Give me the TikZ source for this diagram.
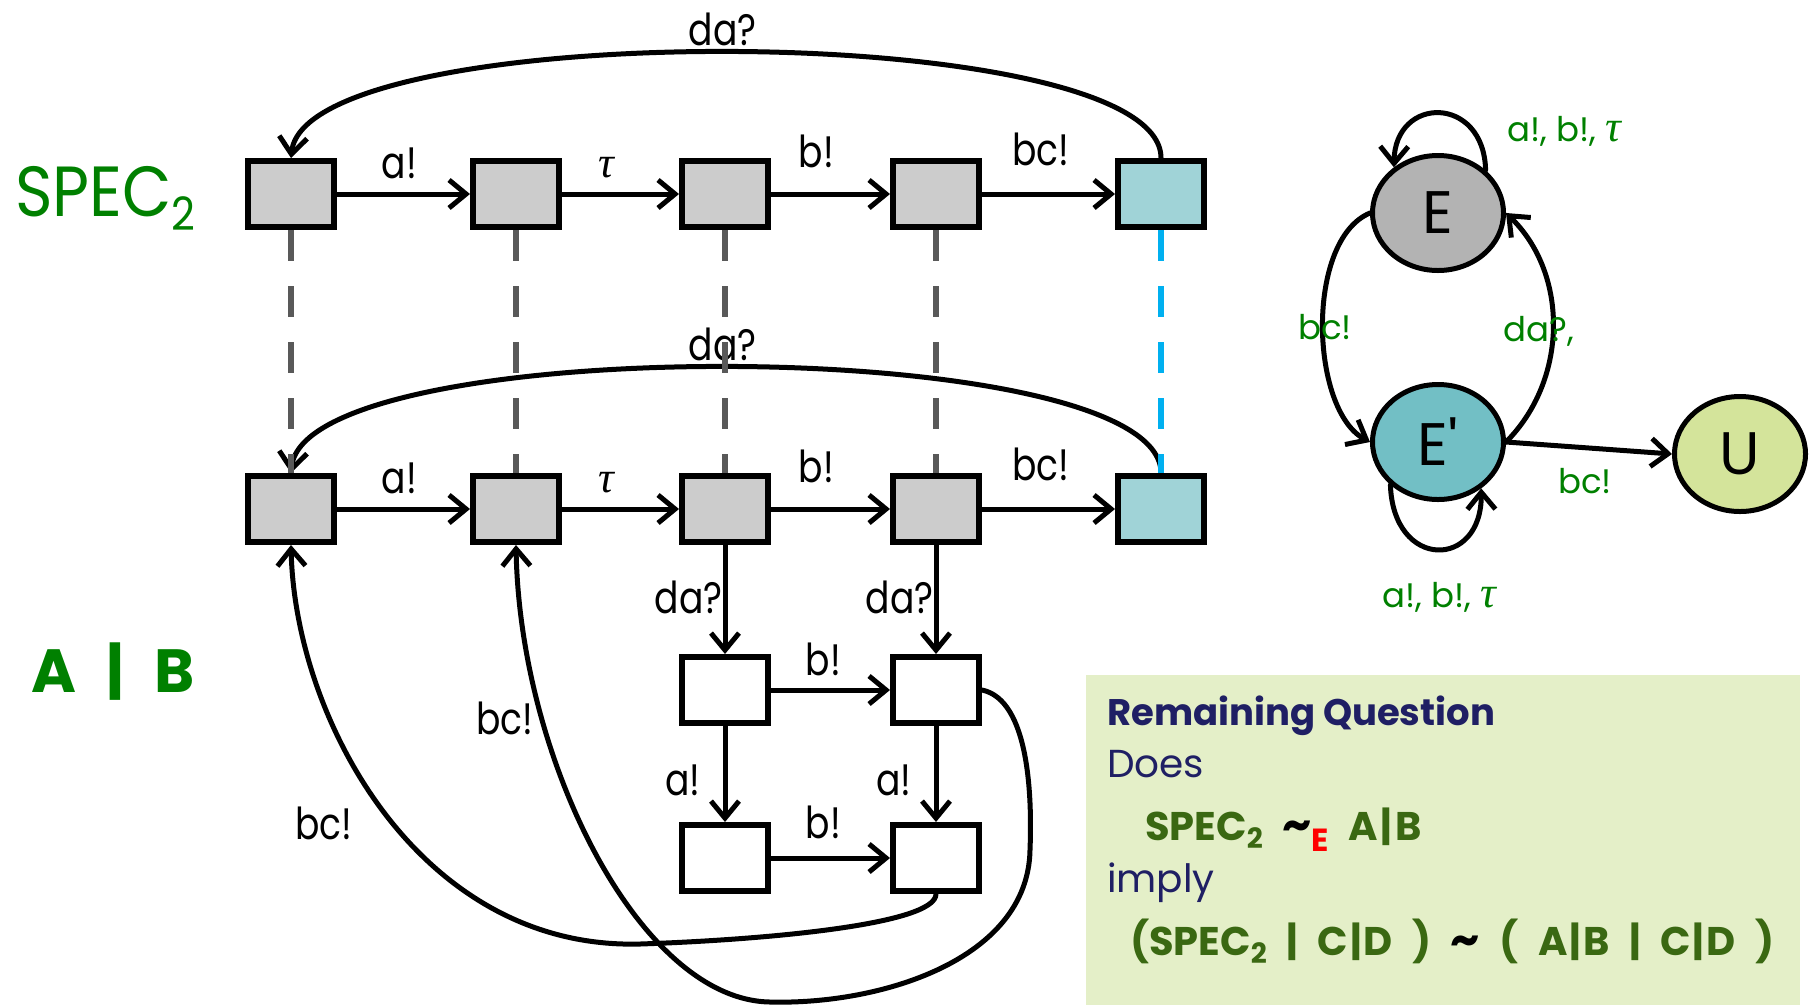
\documentclass[tikz,border=0pt]{standalone}
\usepackage{fontspec}
\setmainfont{Poppins}
\newfontfamily\narrowfont[FakeStretch=0.82]{Poppins}
\newfontfamily\titlefont[FakeStretch=0.9]{Poppins}
\newfontfamily\widefont[WordSpace=2.3]{Poppins}
\newfontfamily\greekfont{Liberation Serif}
\usetikzlibrary{arrows.meta,shapes.geometric}

\definecolor{boxgray}{RGB}{204,204,204}
\definecolor{boxteal}{RGB}{160,211,215}
\definecolor{dashgray}{RGB}{89,89,89}
\definecolor{dashcyan}{RGB}{0,176,240}
\definecolor{lblgreen}{RGB}{0,128,0}
\definecolor{egray}{RGB}{179,179,179}
\definecolor{eteal}{RGB}{114,191,197}
\definecolor{ulime}{RGB}{212,228,155}
\definecolor{panelgreen}{RGB}{228,239,200}
\definecolor{navytext}{RGB}{31,31,100}
\definecolor{olivetext}{RGB}{58,104,18}

% lowered small index in a given size
\newcommand{\lowidx}[3]{\raisebox{-#2}{\fontsize{#1}{#1}\selectfont #3}}
% italic tau
\newcommand{\ttau}{{\greekfont\itshape τ}}
\newcommand{\gtau}{{\greekfont\itshape\fontsize{44}{44}\selectfont τ}}

\tikzset{
  stbox/.style={draw=black, line width=6pt, minimum width=86pt, minimum height=66pt,
    inner sep=0pt, fill=boxgray},
  tr/.style={-{Straight Barb[length=17pt,width=28pt]}, line width=5pt,
    line cap=round, line join=round},
  lbl/.style={font=\narrowfont\fontsize{44}{44}\selectfont, inner sep=0pt},
  glbl/.style={font=\fontsize{34}{34}\selectfont, text=lblgreen, inner sep=0pt},
  eli/.style={ellipse, draw=black, line width=5pt, minimum width=131pt,
    minimum height=115pt, inner sep=0pt, font=\fontsize{60}{60}\selectfont},
  corr/.style={line width=6pt, dash pattern=on 31pt off 25pt},
  ptext/.style={anchor=base west, inner sep=0pt},
}

\begin{document}
\begin{tikzpicture}[x=1pt,y=-1pt]
\useasboundingbox (0,0) rectangle (1814,1005);

% question panel
\fill[panelgreen] (1086,675) rectangle (1800,1005);

% side titles
\node[font=\titlefont\fontsize{71}{71}\selectfont, text=lblgreen, inner sep=0pt, anchor=base west]
  (spec) at (15,216) {SPEC\lowidx{46}{14pt}{2}};
\node[font=\bfseries\fontsize{61}{61}\selectfont, text=lblgreen, inner sep=0pt]
  (ab) at (113,672) {A\hspace{30pt}|\hspace{30pt}B};

% SPEC2 chain
\node[stbox] (t1) at (291,194) {};
\node[stbox] (t2) at (516,194) {};
\node[stbox] (t3) at (725,194) {};
\node[stbox] (t4) at (936,194) {};
\node[stbox, fill=boxteal] (t5) at (1161,194) {};

% A|B chain
\node[stbox] (m1) at (291,509) {};
\node[stbox] (m2) at (516,509) {};
\node[stbox] (m3) at (725,509) {};
\node[stbox] (m4) at (936,509) {};
\node[stbox, fill=boxteal] (m5) at (1161,509) {};

% A|B extra states
\node[stbox, fill=white] (s1) at (725,690) {};
\node[stbox, fill=white] (s2) at (936,690) {};
\node[stbox, fill=white] (s3) at (725,858) {};
\node[stbox, fill=white] (s4) at (936,858) {};

% SPEC2 transitions
\draw[tr] (t1) -- node[lbl, pos=.47, anchor=base, yshift=16pt] {a!} (t2);
\draw[tr] (t2) -- node[lbl, pos=.38, anchor=base, yshift=17pt] {\ttau} (t3);
\draw[tr] (t3) -- node[lbl, pos=.38, anchor=base, yshift=27pt] {b!} (t4);
\draw[tr] (t4) -- node[lbl, pos=.44, anchor=base, yshift=29pt] {bc!} (t5);
\draw[tr] (t5.north) .. controls +(0,-140) and +(15,-142) .. (t1.north)
  node[lbl, pos=.5, anchor=base, yshift=7pt, xshift=-9pt] {da?};

% A|B transitions
\draw[tr] (m1) -- node[lbl, pos=.47, anchor=base, yshift=16pt] {a!} (m2);
\draw[tr] (m2) -- node[lbl, pos=.38, anchor=base, yshift=17pt] {\ttau} (m3);
\draw[tr] (m3) -- node[lbl, pos=.38, anchor=base, yshift=27pt] {b!} (m4);
\draw[tr] (m4) -- node[lbl, pos=.44, anchor=base, yshift=29pt] {bc!} (m5);
\draw[tr] (m5.north) .. controls +(0,-140) and +(15,-142) .. (m1.north)
  node[lbl, pos=.5, anchor=base, yshift=7pt, xshift=-9pt] {da?};

\draw[tr] (m3) -- node[lbl, pos=.63, anchor=base east] {da?} (s1);
\draw[tr] (m4) -- node[lbl, pos=.63, anchor=base east] {da?} (s2);
\draw[tr] (s1) -- node[lbl, pos=.44, anchor=base, yshift=15pt] {b!} (s2);
\draw[tr] (s3) -- node[lbl, pos=.44, anchor=base, yshift=20pt] {b!} (s4);
\draw[tr] (s1) -- node[lbl, pos=.72, anchor=base east, xshift=-22pt] {a!} (s3);
\draw[tr] (s2) -- node[lbl, pos=.72, anchor=base east, xshift=-22pt] {a!} (s4);

\draw[tr] (s4.south) .. controls (936,925) and (760,940) .. (640,944)
  .. controls (420,950) and (295,720) .. (m1.south);
\draw[tr] (s2.east) .. controls (1030,700) and (1032,800) .. (1030,850)
  .. controls (1028,960) and (880,1005) .. (770,1002)
  .. controls (640,1000) and (520,760) .. (m2.south);
\node[lbl] (bcA) at (324,823) {bc!};
\node[lbl] (bcB) at (505,718) {bc!};

% correspondence between the two chains
\draw[corr, dashgray] (t1.south) -- (m1.north);
\draw[corr, dashgray] (t2.south) -- (m2.north);
\draw[corr, dashgray] (t3.south) -- (m3.north);
\draw[corr, dashgray] (t4.south) -- (m4.north);
\draw[corr, dashcyan] (t5.south) -- (m5.north);

% property automaton
\node[eli, fill=egray] (E) at (1438,213) {E};
\node[eli, fill=eteal] (Ep) at (1438,442) {E\textquotesingle};
\node[eli, fill=ulime] (U) at (1740,454) {U};

\draw[tr] (E.42) .. controls (1484,95) and (1395,95) .. (E.134);
\node[glbl] (lE) at (1564,131) {a!, b!, \gtau};
\draw[tr] (Ep.222) .. controls (1393,570) and (1482,570) .. (Ep.313);
\node[glbl] (lEp) at (1439,597) {a!, b!, \gtau};
\draw[tr] (E.west) .. controls (1305,240) and (1310,410) .. (Ep.west);
\node[glbl] (lbc) at (1325,327) {bc!};
\draw[tr] (Ep.east) .. controls (1568,380) and (1569,274) .. (E.east);
\node[glbl] (lda) at (1539,331) {da?,};
\draw[tr] (Ep.east) -- (U.west);
\node[glbl] (lU) at (1585,481) {bc!};

% remaining question
\node[ptext, font=\bfseries\fontsize{37}{37}\selectfont, text=navytext] (q1) at (1107,725) {Remaining Question};
\node[ptext, font=\fontsize{39}{39}\selectfont, text=navytext] (q2) at (1107,777) {Does};
\node[ptext, font=\widefont\bfseries\fontsize{40}{40}\selectfont, text=olivetext] (q3) at (1145,840)
  {SPEC\lowidx{28}{8pt}{2} {\color{black}\fontsize{46}{46}\selectfont\textasciitilde}\lowidx{32}{11pt}{\color{red}E} A\hspace{3pt}|\hspace{3pt}B};
\node[ptext, font=\fontsize{39}{39}\selectfont, text=navytext] (q4) at (1107,892) {imply};
\node[ptext, font=\widefont\bfseries\fontsize{40}{40}\selectfont, text=olivetext] (q5) at (1130,955)
  {(SPEC\lowidx{28}{8pt}{2} | C\hspace{2pt}|\hspace{2pt}D ) {\color{black}\fontsize{46}{46}\selectfont\textasciitilde} ( A\hspace{2pt}|\hspace{2pt}B | C\hspace{2pt}|\hspace{2pt}D )};
\end{tikzpicture}
\end{document}
